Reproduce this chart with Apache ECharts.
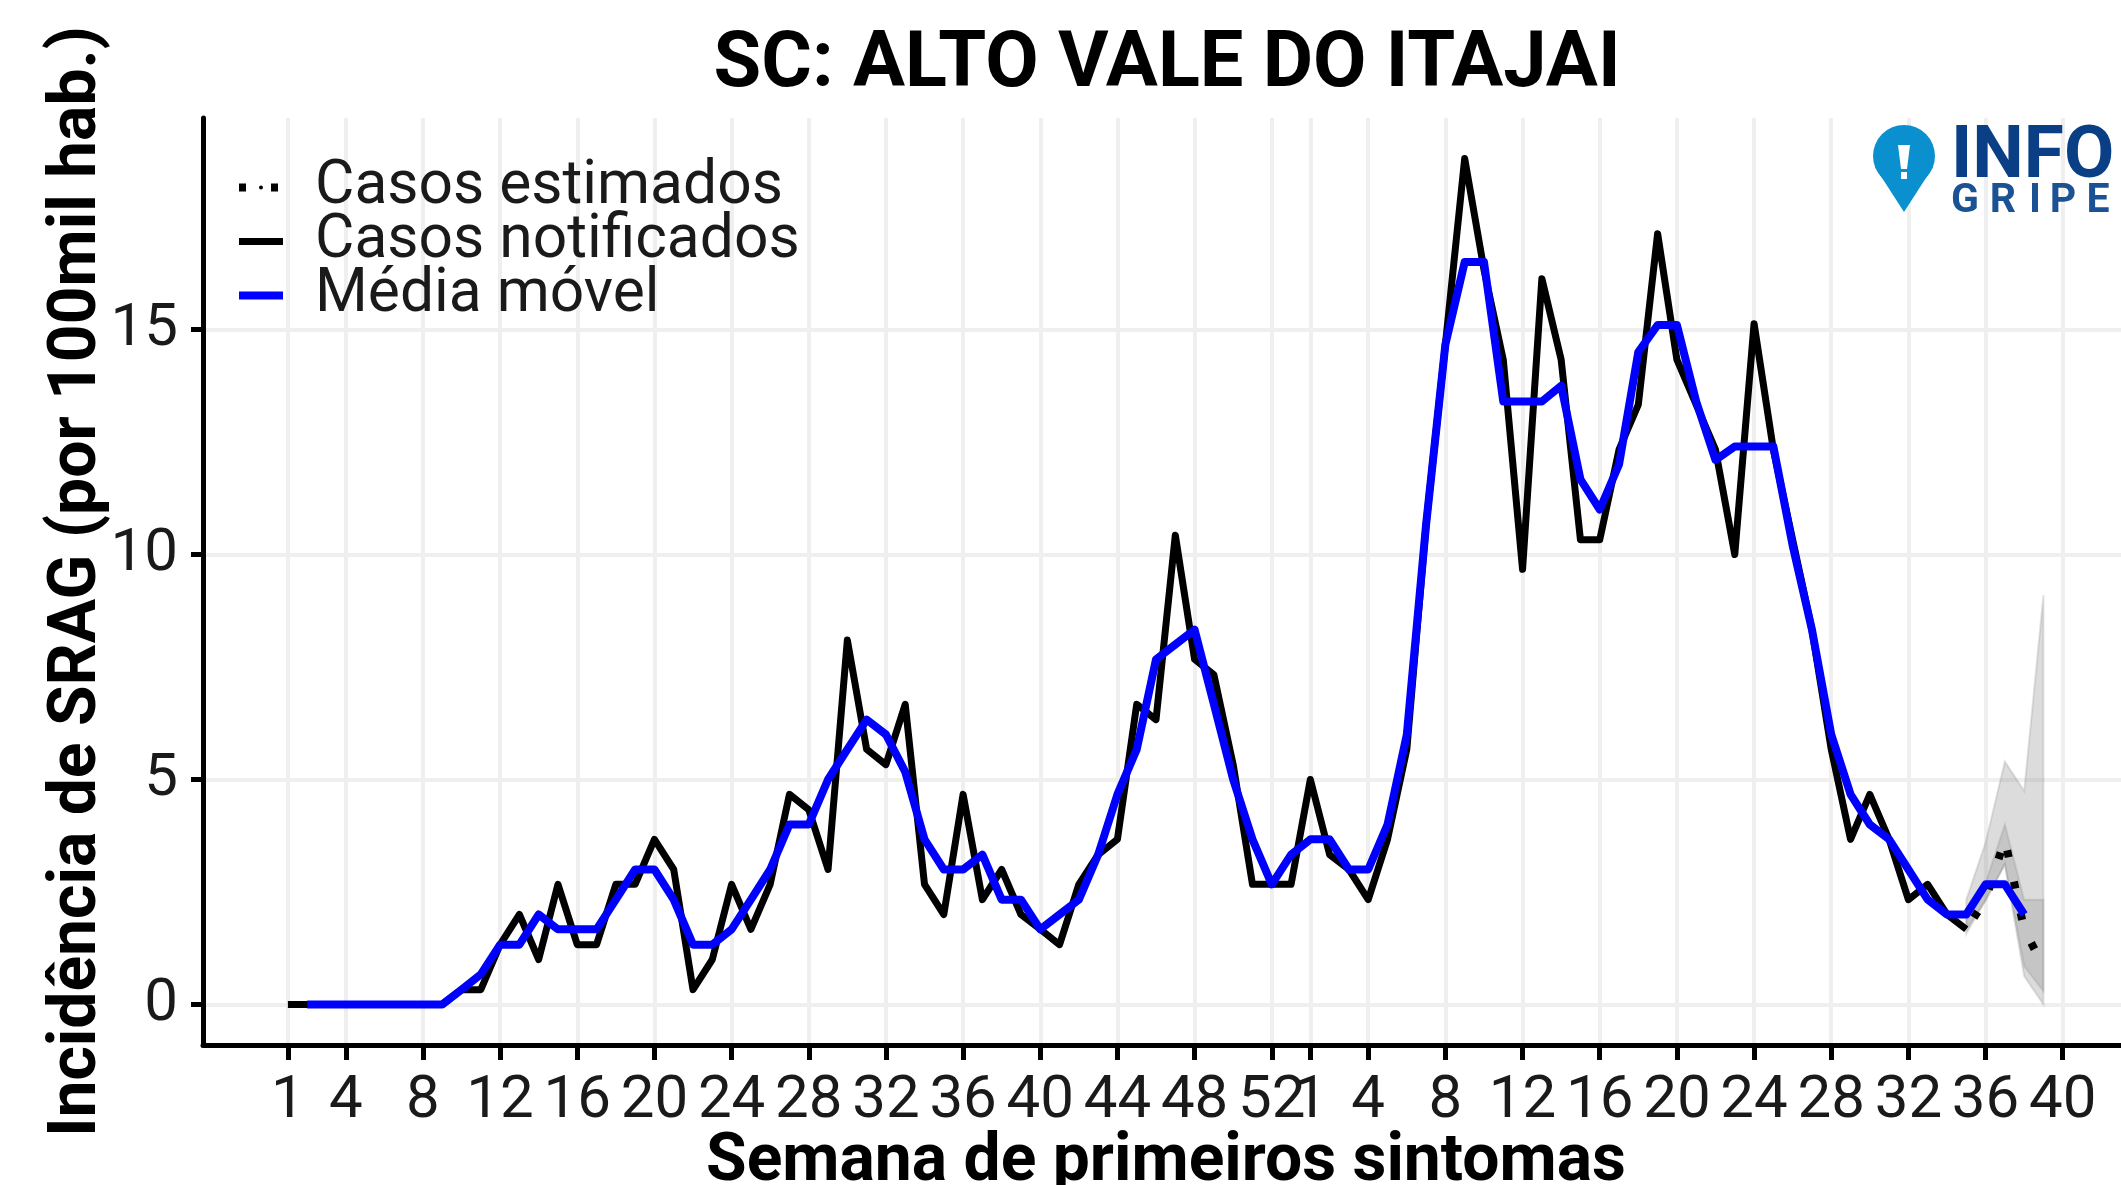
<!DOCTYPE html>
<html>
<head>
<meta charset="utf-8">
<title>SC: ALTO VALE DO ITAJAI</title>
<style>
  html, body { margin: 0; padding: 0; background: #fff; }
  #chart { width: 2121px; height: 1185px; }
</style>
<script src="https://cdn.jsdelivr.net/npm/echarts@6/dist/echarts.min.js"></script>
</head>
<body>
<div id="chart"></div>
<script>
// semanas epidemiologicas: 2020 tem 53 semanas, depois 2021 ate a semana 40
const weeks = [];
for (let w = 1; w <= 53; w++) weeks.push(w);
for (let w = 1; w <= 40; w++) weeks.push(w);

// posicoes (indice em weeks) que ganham tick e rotulo
const tickIndex = [0, 3, 7, 11, 15, 19, 23, 27, 31, 35, 39, 43, 47, 51, 53, 56, 60, 64, 68, 72, 76, 80, 84, 88, 92];
const yTicks = [0, 5, 10, 15];

// casos notificados, semana a semana
const notified = [
  0, 0, 0, 0, 0, 0, 0, 0, 0, 0.33, 0.33, 1.33, 2, 1, 2.67, 1.33, 1.33, 2.67, 2.67, 3.67,
  3, 0.33, 1, 2.67, 1.67, 2.67, 4.67, 4.33, 3, 8.1, 5.67, 5.33, 6.67, 2.67, 2, 4.67, 2.33, 3, 2, 1.67,
  1.33, 2.67, 3.33, 3.67, 6.67, 6.33, 10.43, 7.67, 7.33, 5.33, 2.67, 2.67, 2.67, 5, 3.33, 3, 2.33, 3.67, 5.67, 10.67,
  14.67, 18.8, 16.33, 14.33, 9.67, 16.13, 14.33, 10.33, 10.33, 12.33, 13.33, 17.13, 14.33, 13.33, 12.33, 10, 15.13, 12.33, 10.33, 8.33,
  5.67, 3.67, 4.67, 3.67, 2.33, 2.67, 2, 1.67
];

// media movel comeca na segunda semana e termina em idx 90
const movingAvg = [
  null, 0, 0, 0, 0, 0, 0, 0, 0, 0.33, 0.67, 1.33, 1.33, 2, 1.67, 1.67, 1.67, 2.33, 3, 3,
  2.33, 1.33, 1.33, 1.67, 2.33, 3, 4, 4, 5, 5.67, 6.33, 6, 5.17, 3.67, 3, 3, 3.33, 2.33, 2.33, 1.67,
  2, 2.33, 3.33, 4.67, 5.67, 7.67, 8, 8.33, 6.67, 5, 3.67, 2.67, 3.33, 3.67, 3.67, 3, 3, 4, 6, 10.67,
  14.67, 16.5, 16.5, 13.4, 13.4, 13.4, 13.75, 11.67, 11, 12, 14.5, 15.1, 15.1, 13.4, 12.1, 12.4, 12.4, 12.4, 10.2, 8.33,
  6, 4.67, 4, 3.67, 3, 2.33, 2, 2, 2.67, 2.67, 2
];

// casos estimados e intervalos, so nas ultimas semanas
const estimateIndex = [87, 88, 89, 90, 91];
const estimated = [1.67, 2.33, 3.67, 1.67, 0.85];
const outerLow = [1.57, 2.33, 3.1, 0.63, 0];
const outerHigh = [2.33, 3.6, 5.4, 4.75, 9.1];
const innerLow = [1.67, 2.3, 3.13, 0.85, 0.3];
const innerHigh = [2, 2.7, 4, 2.33, 2.33];

const legendNames = ['Casos estimados', 'Casos notificados', 'Média móvel'];
const gripeLetters = ['G', 'R', 'I', 'P', 'E'];

const FONT = 'Roboto';
const weekLabel = {};
tickIndex.forEach((i) => { weekLabel[i] = String(weeks[i]); });

const pairs = (values) => values.map((v, i) => [i, v]);

// faixa de incerteza como um poligono so
const bandSeries = (low, high, fill) => ({
  type: 'custom',
  silent: true,
  z: 3,
  data: estimateIndex.map((x, i) => [x, low[i], high[i]]),
  encode: { x: 0, y: [1, 2] },
  renderItem: (params, api) => {
    if (params.dataIndex !== 0) return null;
    const top = estimateIndex.map((x, i) => api.coord([x, high[i]]));
    const bottom = estimateIndex.map((x, i) => api.coord([x, low[i]])).reverse();
    return {
      type: 'polygon',
      shape: { points: top.concat(bottom) },
      style: { fill: fill, stroke: 'rgba(120,120,120,0.2)', lineWidth: 2 },
    };
  },
});

const myChart = echarts.init(document.getElementById('chart'));

myChart.setOption({
  animation: false,
  backgroundColor: '#fff',
  textStyle: { fontFamily: FONT },
  title: {
    text: 'SC: ALTO VALE DO ITAJAI',
    left: 1162,
    top: 23,
    textAlign: 'center',
    textStyle: { fontFamily: FONT, fontWeight: 'bold', fontSize: 77.5, color: '#000' },
  },
  legend: {
    left: 230,
    top: 152,
    orient: 'vertical',
    itemWidth: 44,
    itemHeight: 5,
    itemGap: -7,
    selectedMode: false,
    lineStyle: { width: 'inherit' },
    data: legendNames.map((name) => ({ name: name, lineStyle: { dashOffset: 0 } })),
    textStyle: { fontFamily: FONT, fontSize: 60.5, color: '#1a1a1a', padding: [0, 0, 0, 27] },
  },
  grid: { left: 203, right: 0, top: 118, bottom: 140, outerBoundsMode: 'none' },
  xAxis: {
    type: 'value',
    min: -4.4,
    max: 95.02,
    name: 'Semana de primeiros sintomas',
    nameLocation: 'middle',
    nameGap: 85,
    nameMoveOverlap: false,
    nameTextStyle: { fontFamily: FONT, fontWeight: 'bold', fontSize: 66, color: '#000', padding: [0, 0, 0, 8] },
    axisLine: { show: true, onZero: false, lineStyle: { color: '#000', width: 5 } },
    axisTick: { show: true, length: 15, customValues: tickIndex, lineStyle: { color: '#000', width: 5 } },
    axisLabel: {
      customValues: tickIndex,
      hideOverlap: false,
      margin: 27,
      fontFamily: FONT,
      fontSize: 60,
      color: '#1a1a1a',
      formatter: (v) => weekLabel[v],
    },
    splitLine: { show: true, lineStyle: { color: '#efefef', width: 4 } },
  },
  yAxis: {
    type: 'value',
    min: -0.9,
    max: 19.7,
    name: 'Incidência de SRAG (por 100mil hab.)',
    nameLocation: 'middle',
    nameGap: 92,
    nameMoveOverlap: false,
    nameTextStyle: { fontFamily: FONT, fontWeight: 'bold', fontSize: 66, color: '#000' },
    axisLine: { show: true, onZero: false, lineStyle: { color: '#000', width: 5 } },
    axisTick: { show: true, length: 12, customValues: yTicks, lineStyle: { color: '#000', width: 5 } },
    axisLabel: {
      customValues: yTicks,
      margin: 25,
      fontFamily: FONT,
      fontSize: 60,
      color: '#1a1a1a',
    },
    splitLine: { show: true, lineStyle: { color: '#efefef', width: 4 } },
  },
  series: [
    bandSeries(outerLow, outerHigh, 'rgba(120,120,120,0.26)'),
    bandSeries(innerLow, innerHigh, 'rgba(120,120,120,0.22)'),
    {
      name: 'Casos notificados',
      type: 'line',
      data: pairs(notified),
      symbol: 'none',
      z: 4,
      lineStyle: { color: '#000', width: 7, join: 'round' },
      itemStyle: { color: '#000' },
    },
    {
      name: 'Casos estimados',
      type: 'line',
      data: estimateIndex.map((x, i) => [x, estimated[i]]),
      symbol: 'none',
      z: 5,
      lineStyle: { color: '#000', width: 8, type: [7, 25], dashOffset: 18 },
      itemStyle: { color: '#000' },
    },
    {
      name: 'Média móvel',
      type: 'line',
      data: pairs(movingAvg),
      symbol: 'none',
      connectNulls: false,
      z: 6,
      lineStyle: { color: '#0000ff', width: 8, join: 'round' },
      itemStyle: { color: '#0000ff' },
    },
  ],
  graphic: [
    // logo InfoGripe
    {
      type: 'circle',
      z: 20,
      shape: { cx: 1904, cy: 156, r: 31 },
      style: { fill: '#0a90cf' },
    },
    {
      type: 'polygon',
      z: 20,
      shape: { points: [[1875, 167], [1933, 167], [1904, 212]] },
      style: { fill: '#0a90cf' },
    },
    {
      type: 'polygon',
      z: 21,
      shape: { points: [[1898, 145], [1910, 145], [1907, 169], [1901, 169]] },
      style: { fill: '#fff' },
    },
    {
      type: 'rect',
      z: 21,
      shape: { x: 1901, y: 172, width: 6, height: 7 },
      style: { fill: '#fff' },
    },
    {
      type: 'text',
      x: 1951,
      y: 159,
      z: 20,
      style: {
        text: 'INFO',
        fontFamily: FONT,
        fontWeight: 'bold',
        fontSize: 73,
        fill: '#0b3f85',
        textVerticalAlign: 'middle',
      },
    },
    ...gripeLetters.map((letter, i) => ({
      type: 'text',
      x: [1965, 2003, 2035, 2063, 2098][i],
      y: 202,
      z: 20,
      style: {
        text: letter,
        fontFamily: FONT,
        fontWeight: 'bold',
        fontSize: 41,
        fill: '#1b5293',
        textAlign: 'center',
        textVerticalAlign: 'middle',
      },
    })),
  ],
});
</script>
</body>
</html>
